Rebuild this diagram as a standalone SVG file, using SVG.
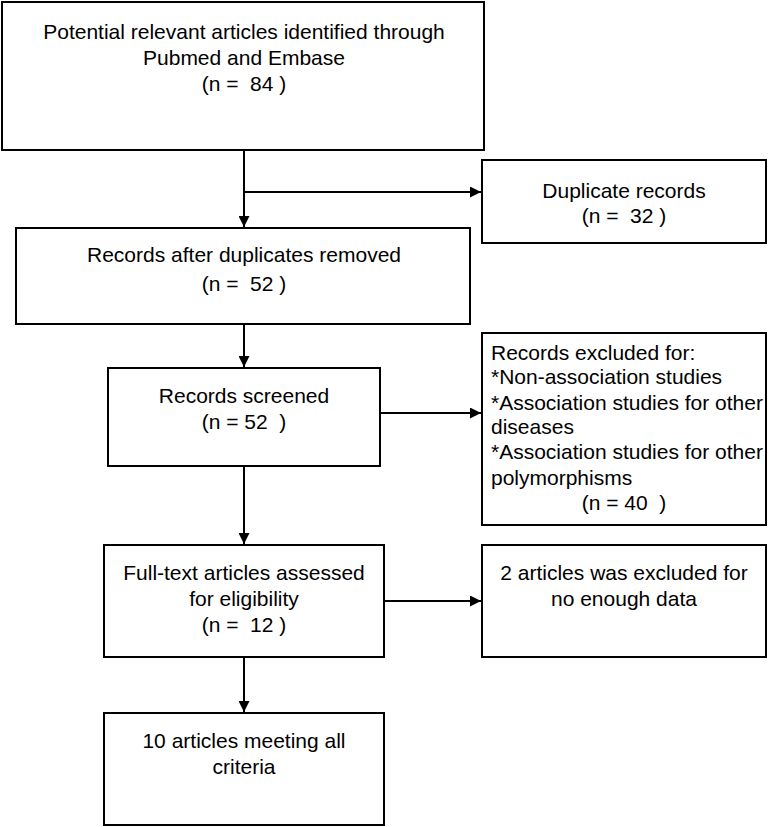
<svg xmlns="http://www.w3.org/2000/svg" width="770" height="827" viewBox="0 0 770 827">
<style>
.box{fill:#fff;stroke:#000;stroke-width:2}
.t{font-family:"Liberation Sans",Arial,sans-serif;font-size:21px;fill:#000;text-anchor:middle;white-space:pre}
.l{text-anchor:start}
.c{stroke:#000;stroke-width:2;fill:none}
</style>
<defs>
<marker id="ah" viewBox="0 0 10 10" refX="10" refY="5" markerWidth="11" markerHeight="11" markerUnits="userSpaceOnUse" orient="auto"><path d="M0,0 L10,5 L0,10 z" fill="#000"/></marker>
</defs>
<rect width="770" height="827" fill="#fff"/>
<g id="connectors">
<line class="c" x1="244" y1="150" x2="244" y2="227" marker-end="url(#ah)"/>
<line class="c" x1="244" y1="192" x2="481" y2="192" marker-end="url(#ah)"/>
<line class="c" x1="244" y1="324" x2="244" y2="367" marker-end="url(#ah)"/>
<line class="c" x1="380" y1="413" x2="481" y2="413" marker-end="url(#ah)"/>
<line class="c" x1="244" y1="466" x2="244" y2="544" marker-end="url(#ah)"/>
<line class="c" x1="384" y1="601" x2="481" y2="601" marker-end="url(#ah)"/>
<line class="c" x1="244" y1="657" x2="244" y2="712" marker-end="url(#ah)"/>
</g>
<g id="n1">
<rect class="box" x="2" y="2" width="482" height="148"/>
<text class="t" x="244" y="39">Potential relevant articles identified through</text>
<text class="t" x="244" y="65">Pubmed and Embase</text>
<text class="t" x="244" y="91" xml:space="preserve">(n =  84 )</text>
</g>
<g id="n2">
<rect class="box" x="482" y="160" width="284" height="83"/>
<text class="t" x="624" y="198">Duplicate records</text>
<text class="t" x="624" y="223" xml:space="preserve">(n =  32 )</text>
</g>
<g id="n3">
<rect class="box" x="16" y="228" width="454" height="96"/>
<text class="t" x="244" y="262">Records after duplicates removed</text>
<text class="t" x="244" y="291" xml:space="preserve">(n =  52 )</text>
</g>
<g id="n4">
<rect class="box" x="108" y="368" width="272" height="98"/>
<text class="t" x="244" y="403">Records screened</text>
<text class="t" x="244" y="429" xml:space="preserve">(n = 52  )</text>
</g>
<g id="n5">
<rect class="box" x="482" y="333" width="284" height="192"/>
<text class="t l" x="491" y="360">Records excluded for:</text>
<text class="t l" x="491" y="384">*Non-association studies</text>
<text class="t l" x="491" y="410">*Association studies for other</text>
<text class="t l" x="491" y="434">diseases</text>
<text class="t l" x="491" y="459">*Association studies for other</text>
<text class="t l" x="491" y="485">polymorphisms</text>
<text class="t" x="624" y="510" xml:space="preserve">(n = 40  )</text>
</g>
<g id="n6">
<rect class="box" x="104" y="545" width="280" height="112"/>
<text class="t" x="244" y="580">Full-text articles assessed</text>
<text class="t" x="244" y="606">for eligibility</text>
<text class="t" x="244" y="632" xml:space="preserve">(n =  12 )</text>
</g>
<g id="n7">
<rect class="box" x="482" y="545" width="284" height="112"/>
<text class="t" x="624" y="580">2 articles was excluded for</text>
<text class="t" x="624" y="606">no enough data</text>
</g>
<g id="n8">
<rect class="box" x="104" y="713" width="280" height="112"/>
<text class="t" x="244" y="748">10 articles meeting all</text>
<text class="t" x="244" y="774">criteria</text>
</g>
</svg>
